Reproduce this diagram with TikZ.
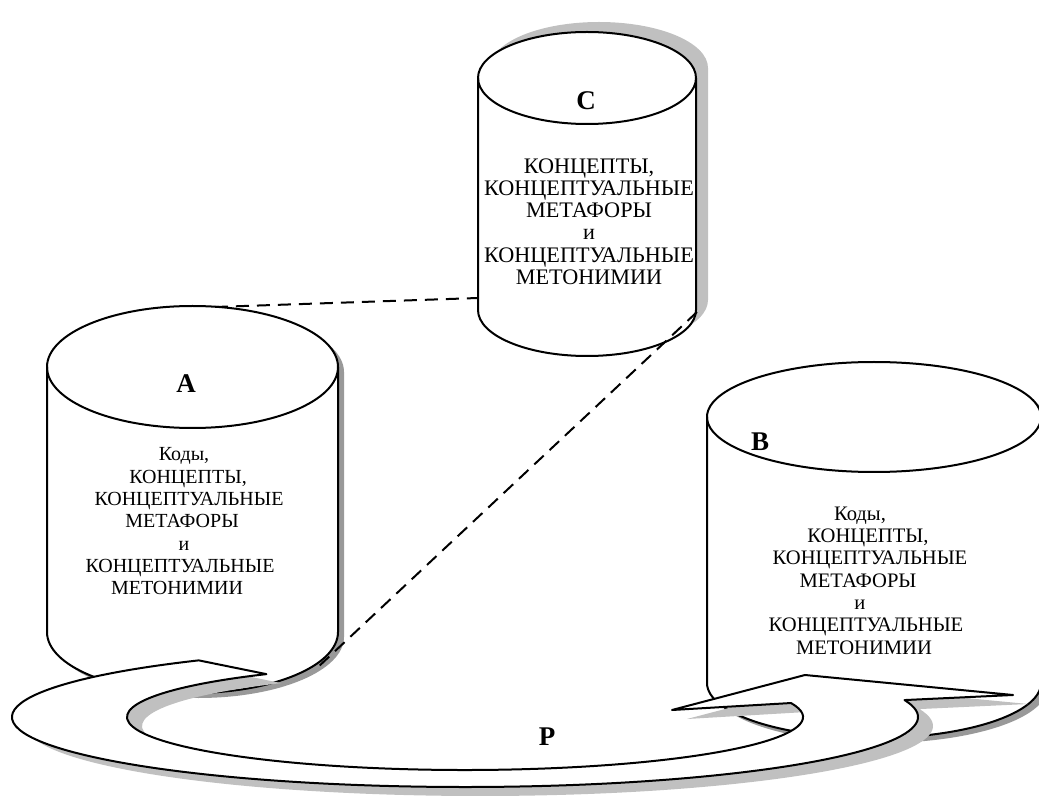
\documentclass[tikz,border=0pt]{standalone}
\usepackage{fontspec}
\setmainfont{Liberation Serif}
\usetikzlibrary{calc}
\definecolor{shlight}{HTML}{C0C0C0}
\definecolor{shdark}{HTML}{999999}
\tikzset{
  cylbody/.style  = {draw, line width=1pt, fill=white},
  cylrim/.style   = {draw, line width=1pt},
  lightshade/.style = {fill=shlight, draw=none},
  darkshade/.style  = {fill=shdark, draw=none},
  link/.style     = {line width=1pt, dash pattern=on 6.5pt off 4pt},
  cyltext/.style  = {font=\fontsize{10}{11.15}\selectfont, align=center,
                     inner sep=0pt, anchor=north},
  tag/.style      = {font=\fontsize{13.5}{16}\selectfont\bfseries, inner sep=0pt},
}
% cylinder: centre x, top y, bottom y, x radius, y radius, shadow style, shadow shift
\newcommand{\drum}[7]{%
  \fill[#6, shift={(#7)}] (#1-#4,#2) -- (#1-#4,#3)
    arc[start angle=180, end angle=0, x radius=#4, y radius=#5]
    -- (#1+#4,#2) arc[start angle=0, end angle=-180, x radius=#4, y radius=#5] -- cycle;
  \filldraw[cylbody] (#1-#4,#2) -- (#1-#4,#3)
    arc[start angle=180, end angle=0, x radius=#4, y radius=#5]
    -- (#1+#4,#2) arc[start angle=0, end angle=-180, x radius=#4, y radius=#5] -- cycle;
  \draw[cylrim] (#1-#4,#2) arc[start angle=180, end angle=0, x radius=#4, y radius=#5];
}
\newcommand{\nudge}[2]{\hspace*{#1pt}#2}
% the curved arrow round the bottom (centre 465,717)
\newcommand{\bandpath}{($(465,717)+(234:453 and 70)$)
  arc[start angle=234, end angle=-14, x radius=453, y radius=70]
  -- (1013,695) -- (805,675) -- (672,710)
  -- ($(465,717)+(-15.3:338 and 53)$)
  arc[start angle=-15.3, end angle=234, x radius=338, y radius=53] -- cycle}

\begin{document}
\begin{tikzpicture}[x=0.5pt,y=-0.5pt,line join=round]
\useasboundingbox (0,0) rectangle (1039,796);
\clip (0,0) rectangle (1039,796);
% ---- cylinders ----
\drum{587}{78}{310}{109}{46}{lightshade}{12,-10}
\drum{192.5}{367}{632}{145.5}{61}{darkshade}{6,5}
\drum{874}{417}{683}{167}{55}{darkshade}{6,5}
\node[tag] (C) at (586,101) {C};
\node[tag] (A) at (186,383.5) {A};
\node[tag] (B) at (760,442) {B};
\node[cyltext, font=\fontsize{11.1}{11.15}\selectfont] (Ctext) at (589,158)
  {КОНЦЕПТЫ,\\ КОНЦЕПТУАЛЬНЫЕ\\ МЕТАФОРЫ\\ и\\ КОНЦЕПТУАЛЬНЫЕ\\ МЕТОНИМИИ};
\node[cyltext] (Atext) at (184,447.5)
  {Коды,\\ \nudge{4}{КОНЦЕПТЫ,}\\ \nudge{5}{КОНЦЕПТУАЛЬНЫЕ}\\ \nudge{-2}{МЕТАФОРЫ}\\
   и\\ \nudge{-4}{КОНЦЕПТУАЛЬНЫЕ}\\ \nudge{-7}{МЕТОНИМИИ}};
\node[cyltext, font=\fontsize{10.3}{11.15}\selectfont] (Btext) at (864,506.5)
  {\nudge{-4}{Коды,}\\ \nudge{4}{КОНЦЕПТЫ,}\\ \nudge{6}{КОНЦЕПТУАЛЬНЫЕ}\\ \nudge{-6}{МЕТАФОРЫ}\\
   \nudge{-4}{и}\\ \nudge{2}{КОНЦЕПТУАЛЬНЫЕ}\\ МЕТОНИМИИ};
% ---- dashed links C to A ----
\coordinate (Aneck) at (215,307);
\coordinate (Cside) at (478,298);
\coordinate (Cfoot) at (697,312);
\coordinate (Afoot) at (317,668);
\draw[link] (Aneck) -- (Cside);
\draw[link] (Cfoot) -- (Afoot);
% ---- arrow P ----
\begin{scope}[shift={(15,9)}]
\fill[shlight] \bandpath;
\end{scope}
\filldraw[cylbody] \bandpath;
\node[tag] (P) at (547,737) {P};
\end{tikzpicture}
\end{document}
